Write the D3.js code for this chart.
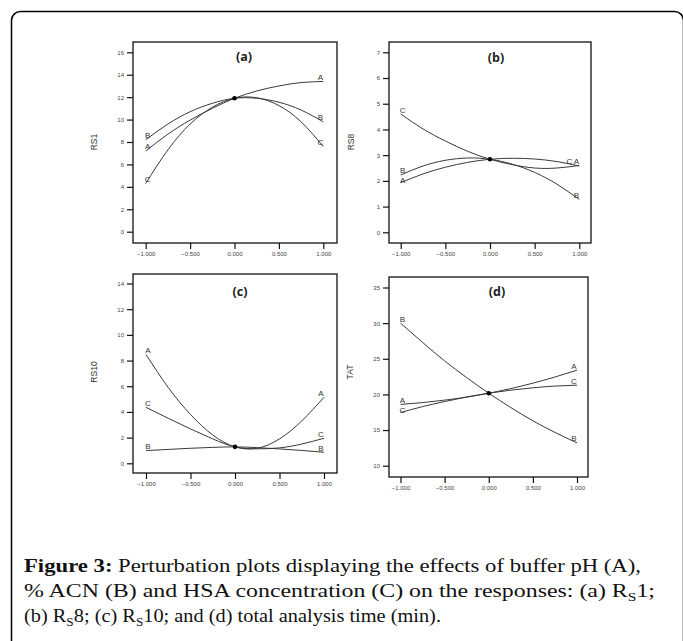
<!DOCTYPE html>
<html>
<head>
<meta charset="utf-8">
<script src="https://cdn.jsdelivr.net/npm/d3@7"></script>
<style>
  body { margin: 0; background: #fff; }
  svg { display: block; }
</style>
</head>
<body>
<div id="chart"></div>
<script>
// Data (coded factor levels -1..1)
const xLevels = [-1, -0.75, -0.5, -0.25, 0, 0.25, 0.5, 0.75, 1];
const factorNames = ["A", "B", "C"];
const xTicks = [-1, -0.5, 0, 0.5, 1];

// (a) RS1
const rs1A = [7.2, 8.7, 9.95, 11.0, 11.9, 12.55, 13.0, 13.3, 13.4];
const rs1B = [8.2, 9.6, 10.7, 11.45, 11.9, 11.9, 11.55, 10.85, 9.8];
const rs1C = [4.3, 7.3, 9.6, 11.1, 11.9, 11.95, 11.25, 9.8, 7.6];
const rs1Ticks = [0, 2, 4, 6, 8, 10, 12, 14, 16];

// (b) RS8
const rs8A = [1.93, 2.27, 2.53, 2.72, 2.84, 2.88, 2.85, 2.75, 2.58];
const rs8B = [2.23, 2.58, 2.8, 2.89, 2.84, 2.65, 2.33, 1.87, 1.28];
const rs8C = [4.6, 4.02, 3.55, 3.15, 2.84, 2.63, 2.5, 2.5, 2.6];
const rs8Ticks = [0, 1, 2, 3, 4, 5, 6, 7];

// (c) RS10
const rs10A = [8.47, 5.9, 3.8, 2.2, 1.28, 1.17, 1.9, 3.3, 5.14];
const rs10B = [0.99, 1.08, 1.17, 1.24, 1.28, 1.22, 1.12, 1.0, 0.86];
const rs10C = [4.36, 3.5, 2.68, 1.9, 1.28, 1.13, 1.2, 1.5, 1.95];
const rs10Ticks = [0, 2, 4, 6, 8, 10, 12, 14];

// (d) TAT
const tatA = [18.6, 18.85, 19.2, 19.62, 20.17, 20.82, 21.58, 22.44, 23.4];
const tatB = [30.0, 27.3, 24.7, 22.36, 20.17, 18.16, 16.3, 14.67, 13.2];
const tatC = [17.46, 18.29, 19.0, 19.64, 20.17, 20.6, 20.93, 21.17, 21.3];
const tatTicks = [10, 15, 20, 25, 30, 35];

// Layout
const width = 683, height = 641;
const panels = [
  { title: "(a)", yLabel: "RS1", series: [rs1A, rs1B, rs1C], ticks: rs1Ticks,
    frame: [133, 42, 337, 243], xr: [145.7, 323.3], yr: [231.7, 52.3], tx: 244, ty: 61, lx: 95, ly: 142 },
  { title: "(b)", yLabel: "RS8", series: [rs8A, rs8B, rs8C], ticks: rs8Ticks,
    frame: [389, 42, 591, 243], xr: [400.7, 579.3], yr: [232.3, 52.3], tx: 496, ty: 62, lx: 352, ly: 142 },
  { title: "(c)", yLabel: "RS10", series: [rs10A, rs10B, rs10C], ticks: rs10Ticks,
    frame: [133, 274, 337, 473], xr: [146, 324], yr: [463.3, 283.5], tx: 240, ty: 296, lx: 95, ly: 372 },
  { title: "(d)", yLabel: "TAT", series: [tatA, tatB, tatC], ticks: tatTicks,
    frame: [389, 277, 588, 477], xr: [400.5, 577], yr: [465.7, 287.5], tx: 497, ty: 296, lx: 351, ly: 372 }
];

const svg = d3.select("#chart")
  .append("svg")
    .attr("width", width)
    .attr("height", height);

// outer rounded frame (runs off the right and bottom edges)
svg.append("rect")
  .attr("x", 11.5).attr("y", 11.5)
  .attr("width", 672).attr("height", 700)
  .attr("rx", 9)
  .attr("fill", "none")
  .attr("stroke", "#000")
  .attr("stroke-width", 1.5);

panels.forEach(function(p) {
  const [fl, ft, fr, fb] = p.frame;
  const x = d3.scaleLinear().domain([-1, 1]).range(p.xr);
  const y = d3.scaleLinear().domain([p.ticks[0], p.ticks[p.ticks.length - 1]]).range(p.yr);
  const g = svg.append("g");

  g.append("rect")
    .attr("x", fl).attr("y", ft)
    .attr("width", fr - fl).attr("height", fb - ft)
    .attr("fill", "none")
    .attr("stroke", "#111")
    .attr("stroke-width", 1.3);

  // y axis
  const yAxis = g.append("g")
    .attr("transform", `translate(${fl},0)`)
    .call(d3.axisLeft(y).tickValues(p.ticks).tickSize(6).tickPadding(3).tickFormat(d3.format("d")));
  yAxis.select(".domain").remove();

  // x axis
  const xAxis = g.append("g")
    .attr("transform", `translate(0,${fb})`)
    .call(d3.axisBottom(x).tickValues(xTicks).tickSize(6).tickPadding(3).tickFormat(d3.format(".3f")));
  xAxis.select(".domain").remove();

  g.selectAll(".tick line").attr("stroke", "#111").attr("stroke-width", 1.2);
  g.selectAll(".tick text")
    .attr("fill", "#444")
    .style("font-family", "Liberation Sans, Arial, sans-serif")
    .style("font-size", "6px");

  // axis title
  g.append("text")
    .attr("transform", `translate(${p.lx},${p.ly}) rotate(-90)`)
    .attr("text-anchor", "middle")
    .attr("dominant-baseline", "middle")
    .attr("fill", "#333")
    .style("font-family", "Liberation Sans, Arial, sans-serif")
    .style("font-size", "8.5px")
    .text(p.yLabel);

  // panel title
  g.append("text")
    .attr("x", p.tx).attr("y", p.ty)
    .attr("text-anchor", "middle")
    .attr("fill", "#222")
    .style("font-family", "Open Sans, sans-serif")
    .style("font-weight", "bold")
    .style("font-size", "12.5px")
    .text(p.title);

  // curves
  const line = d3.line()
    .x(function(d, i) { return x(xLevels[i]); })
    .y(function(d) { return y(d); })
    .curve(d3.curveNatural);

  g.selectAll("path.curve")
    .data(p.series)
    .join("path")
      .attr("class", "curve")
      .attr("d", line)
      .attr("fill", "none")
      .attr("stroke", "#3a3a3a")
      .attr("stroke-width", 1);

  // centre point
  const mid = xLevels.indexOf(0);
  g.append("circle")
    .attr("cx", x(0)).attr("cy", y(p.series[0][mid]))
    .attr("r", 2.3)
    .attr("fill", "#000");

  // end labels
  [0, xLevels.length - 1].forEach(function(end) {
    const labs = p.series.map(function(s, k) {
      return { name: factorNames[k], k: k, px: x(xLevels[end]) + (end === 0 ? 2 : -3), py: y(s[end]) - 1.5 };
    });
    // nudge labels that would sit on top of each other
    labs.forEach(function(a) {
      labs.forEach(function(b) {
        if (a.k > b.k && Math.abs(a.py - b.py) < 6) a.px -= 7;
      });
    });
    labs.sort(function(a, b) { return a.py - b.py; });
    for (let i = 1; i < labs.length; i++) {
      const prev = labs[i - 1], cur = labs[i];
      if (prev.px === cur.px && cur.py - prev.py < 10) cur.py = prev.py + 10;
    }
    g.selectAll(null)
      .data(labs)
      .join("text")
        .attr("x", function(d) { return d.px; })
        .attr("y", function(d) { return d.py; })
        .attr("text-anchor", "middle")
        .attr("fill", "#333")
        .style("font-family", "Liberation Sans, Arial, sans-serif")
        .style("font-size", "8px")
        .text(function(d) { return d.name; });
  });
});

// caption
const capFont = "Liberation Serif, serif";
const cap = svg.append("g")
  .style("font-family", capFont)
  .style("font-size", "18.5px")
  .attr("fill", "#111");

const l1 = cap.append("text").attr("x", 24).attr("y", 572)
  .attr("textLength", 617).attr("lengthAdjust", "spacingAndGlyphs");
l1.append("tspan").style("font-weight", "bold").text("Figure 3:");
l1.append("tspan").text(" Perturbation plots displaying the effects of buffer pH (A),");

const l2 = cap.append("text").attr("x", 24).attr("y", 597)
  .attr("textLength", 631).attr("lengthAdjust", "spacingAndGlyphs");
l2.append("tspan").text("% ACN (B) and HSA concentration (C) on the responses: (a) R");
l2.append("tspan").attr("dy", 4).style("font-size", "12px").text("S");
l2.append("tspan").attr("dy", -4).text("1;");

const l3 = cap.append("text").attr("x", 24).attr("y", 622)
  .attr("textLength", 417).attr("lengthAdjust", "spacingAndGlyphs");
l3.append("tspan").text("(b) R");
l3.append("tspan").attr("dy", 4).style("font-size", "12px").text("S");
l3.append("tspan").attr("dy", -4).text("8; (c) R");
l3.append("tspan").attr("dy", 4).style("font-size", "12px").text("S");
l3.append("tspan").attr("dy", -4).text("10; and (d) total analysis time (min).");
</script>
</body>
</html>
